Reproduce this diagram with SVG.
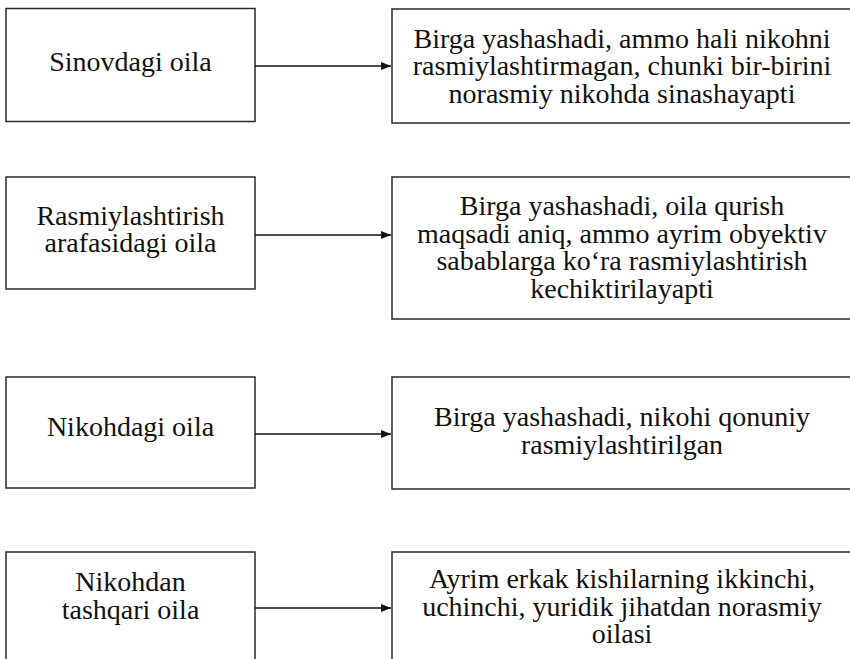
<svg xmlns="http://www.w3.org/2000/svg" width="850" height="659" viewBox="0 0 850 659">
<defs>
<style>
.box{fill:#fff;stroke:#2a2a2a;stroke-width:1.5}
.t{font-family:"Liberation Serif","Times New Roman",serif;font-size:28px;fill:#111;text-anchor:middle}
.c{stroke:#111;stroke-width:1.6;fill:none}
</style>
<marker id="ah" viewBox="0 0 10 8" refX="10" refY="4" markerWidth="10" markerHeight="8" markerUnits="userSpaceOnUse" orient="auto">
<path d="M0,0 L10,4 L0,8 Z" fill="#111"/>
</marker>
</defs>
<rect width="850" height="659" fill="#fff"/>
<g id="n1">
<rect class="box" x="6" y="8.5" width="249" height="113"/>
<text class="t" x="130.5" y="71">Sinovdagi oila</text>
</g>
<g id="d1">
<rect class="box" x="392" y="9" width="463" height="114"/>
<text class="t"><tspan x="622" y="47.5">Birga yashashadi, ammo hali nikohni</tspan><tspan x="622" y="75">rasmiylashtirmagan, chunki bir-birini</tspan><tspan x="622" y="102.5">norasmiy nikohda sinashayapti</tspan></text>
</g>
<g id="n2">
<rect class="box" x="6" y="177" width="249" height="112"/>
<text class="t"><tspan x="130.5" y="225">Rasmiylashtirish</tspan><tspan x="130.5" y="252">arafasidagi oila</tspan></text>
</g>
<g id="d2">
<rect class="box" x="392" y="177" width="463" height="142"/>
<text class="t"><tspan x="622" y="215">Birga yashashadi, oila qurish</tspan><tspan x="622" y="242.5">maqsadi aniq, ammo ayrim obyektiv</tspan><tspan x="622" y="270">sabablarga ko‘ra rasmiylashtirish</tspan><tspan x="622" y="297.5">kechiktirilayapti</tspan></text>
</g>
<g id="n3">
<rect class="box" x="6" y="377" width="249" height="111"/>
<text class="t" x="130.5" y="436">Nikohdagi oila</text>
</g>
<g id="d3">
<rect class="box" x="392" y="377" width="463" height="112"/>
<text class="t"><tspan x="622" y="426">Birga yashashadi, nikohi qonuniy</tspan><tspan x="622" y="453.5">rasmiylashtirilgan</tspan></text>
</g>
<g id="n4">
<rect class="box" x="6" y="552" width="249" height="120"/>
<text class="t"><tspan x="130.5" y="591">Nikohdan</tspan><tspan x="130.5" y="618.5">tashqari oila</tspan></text>
</g>
<g id="d4">
<rect class="box" x="392" y="552" width="463" height="120"/>
<text class="t"><tspan x="622" y="588">Ayrim erkak kishilarning ikkinchi,</tspan><tspan x="622" y="615.5">uchinchi, yuridik jihatdan norasmiy</tspan><tspan x="622" y="643">oilasi</tspan></text>
</g>
<g id="connectors">
<line class="c" x1="255" y1="66" x2="391" y2="66" marker-end="url(#ah)"/>
<line class="c" x1="255" y1="235" x2="391" y2="235" marker-end="url(#ah)"/>
<line class="c" x1="255" y1="434" x2="391" y2="434" marker-end="url(#ah)"/>
<line class="c" x1="255" y1="608" x2="391" y2="608" marker-end="url(#ah)"/>
</g>
</svg>
